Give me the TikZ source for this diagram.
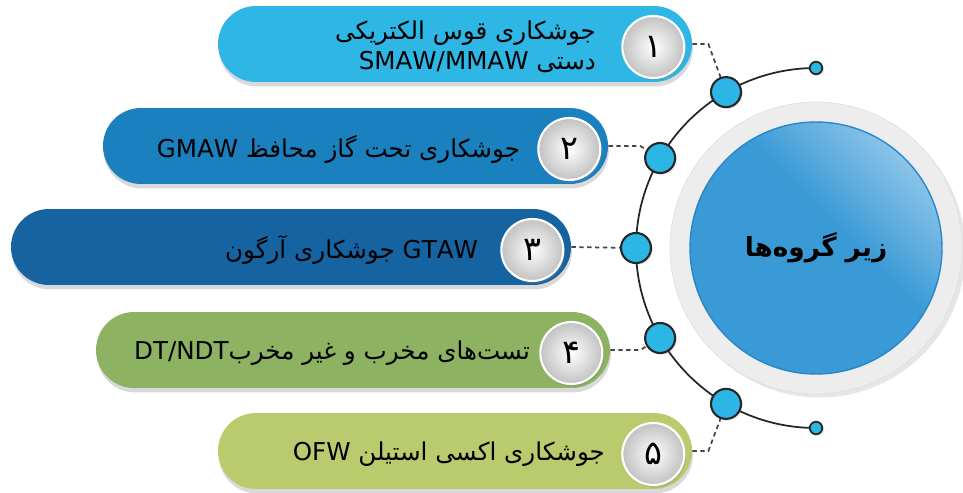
\documentclass[tikz,border=0pt]{standalone}
\usepackage{fontspec}
\usepackage{tikz}
\setmainfont{DejaVu Sans}
\newfontfamily\faFont[Script=Arabic]{DejaVu Sans}
\TeXXeTstate=1
\usetikzlibrary{positioning,shadows,shapes.misc}
\tikzstyle{canvasPx} = [x = 0.02cm, y = -0.02cm]
\definecolor{pillOne}{RGB}{46,183,229}
\definecolor{pillTwo}{RGB}{27,128,190}
\definecolor{pillThree}{RGB}{22,99,162}
\definecolor{pillFour}{RGB}{140,178,98}
\definecolor{pillFive}{RGB}{186,203,109}
\definecolor{dotColor}{RGB}{43,182,230}
\definecolor{hubColor}{RGB}{58,154,214}
\definecolor{hubLight}{RGB}{160,207,236}
\definecolor{hubEdge}{RGB}{40,135,205}
\definecolor{dashColor}{RGB}{70,70,70}
\pgfdeclareverticalshading{hubShade}{100bp}{color(0bp)=(hubColor); color(56bp)=(hubColor); color(80bp)=(hubLight); color(100bp)=(hubLight)}
\tikzstyle{pillStyle} = [rounded rectangle, minimum height = 1.52cm, inner sep = 0pt, drop shadow = {shadow xshift = .5pt, shadow yshift = -2.5pt, opacity = .3}]
\tikzstyle{numberStyle} = [circle, minimum size = 1.24cm, inner sep = 0pt, draw = white, line width = 1.2pt, inner color = white, outer color = black!24, font = \faFont\fontsize{19}{19}\selectfont, drop shadow = {shadow xshift = 1pt, shadow yshift = -1.5pt, opacity = .25}]
\tikzstyle{itemText} = [anchor = east, align = right, inner sep = 0pt, font = \faFont\fontsize{14}{17}\selectfont]
\tikzstyle{dotStyle} = [circle, fill = dotColor, draw = black!85, line width = 1.2pt, minimum size = .6cm, inner sep = 0pt, drop shadow = {shadow xshift = 1pt, shadow yshift = -1pt, opacity = .2}]
\tikzstyle{endDotStyle} = [dotStyle, minimum size = .25cm, line width = 1pt]
\tikzstyle{dashLine} = [color = dashColor, dash pattern = on 2.5pt off 2pt, line width = 1pt]
\tikzstyle{arcLine} = [color = black!85, line width = 1pt]
\tikzstyle{ringStyle} = [circle, minimum size = 5.84cm, fill = black!7, draw = black!12, drop shadow = {shadow xshift = 2pt, shadow yshift = -2pt, opacity = .2}]
\tikzstyle{hubStyle} = [circle, minimum size = 5.04cm, draw = hubEdge, line width = .8pt, shade, shading = hubShade, shading angle = -45, font = \faFont\bfseries\fontsize{15}{15}\selectfont]
\newcommand{\groupItem}[8]{
  \pgfmathsetmacro{\pillMid}{(#3 + #4) / 2}
  \pgfmathsetmacro{\pillWidth}{(#4 - #3) * 0.02}
  \node [pillStyle, fill = #5, minimum width = \pillWidth cm] (pill#1) at (\pillMid, #2) {};
  \node [numberStyle, left = .14cm of pill#1.east, yshift = -.06cm] (num#1) {#6};
  \node [itemText, left = #7 of num#1] (txt#1) {#8};
}

\begin{document}
\begin{tikzpicture}[canvasPx]
  \useasboundingbox (0,0) rectangle (963,493);
  % hub
  \coordinate (hub) at (816,248);
  \node [ringStyle] (hubRing) at (hub) {};
  \node [hubStyle] (hubCore) at (hub) {\beginR زیر گروه‌ها\endR};
  % arc and dots
  \draw [arcLine] (hub) ++(270:180) arc [start angle = 270, end angle = 90, radius = 180];
  \path (hub) ++(270:180) node [endDotStyle] (endTop) {};
  \path (hub) ++(90:180) node [endDotStyle] (endBottom) {};
  \foreach \angle [count = \i] in {240,210,180,150,120}
    \path (hub) ++(\angle:180) node [dotStyle] (dot\i) {};
  % items
  \groupItem{1}{44}{218}{692}{pillOne}{۱}{.5cm}{\beginR جوشکاری قوس الکتریکی\endR\\\beginR دستی \beginL SMAW/MMAW\endL\endR}
  \groupItem{2}{146}{103}{608}{pillTwo}{۲}{.34cm}{\beginR جوشکاری تحت گاز محافظ \beginL GMAW\endL\endR}
  \groupItem{3}{247}{11}{571}{pillThree}{۳}{.44cm}{\beginR\beginL GTAW\endL{} جوشکاری آرگون\endR}
  \groupItem{4}{350}{96}{610}{pillFour}{۴}{.18cm}{\beginR تست‌های مخرب و غیر مخرب\beginL DT/NDT\endL\endR}
  \groupItem{5}{451}{218}{692}{pillFive}{۵}{.32cm}{\beginR جوشکاری اکسی استیلن \beginL OFW\endL\endR}
  % connectors
  \draw [dashLine] (pill1.east) -- ++(16,0) -- (dot1);
  \draw [dashLine] (pill2.east) -- ++(32,0) -- (dot2);
  \draw [dashLine] (pill3.east) -- (dot3);
  \draw [dashLine] (pill4.east) -- ++(30,0) -- (dot4);
  \draw [dashLine] (pill5.east) -- ++(16,0) -- (dot5);
\end{tikzpicture}
\end{document}
